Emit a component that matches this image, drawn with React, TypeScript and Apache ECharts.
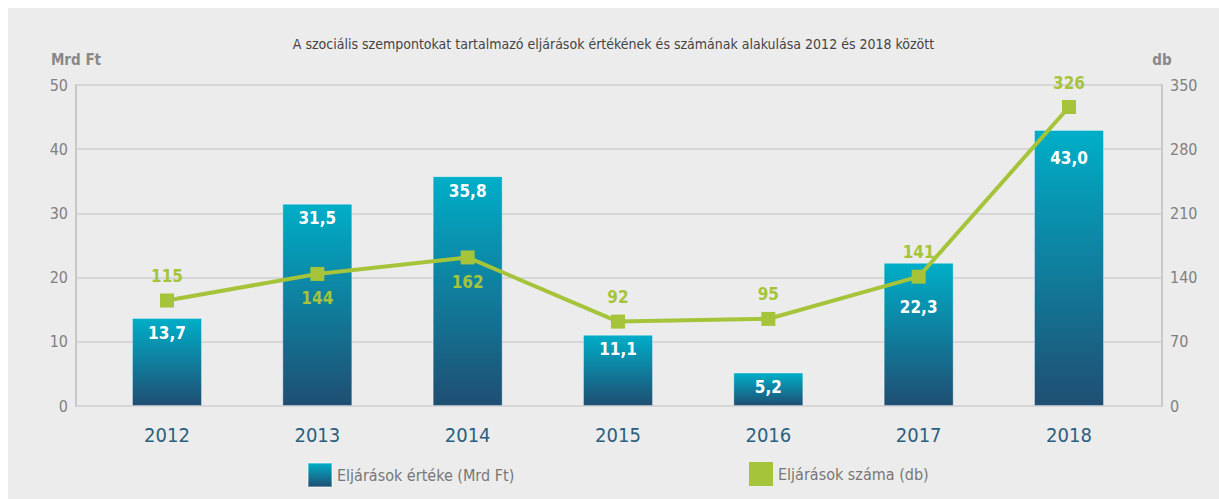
import React, { useEffect, useRef } from "react";
import * as echarts from "echarts";

const titleText =
  "A szociális szempontokat tartalmazó eljárások értékének és számának alakulása 2012 és 2018 között";
const years = ["2012", "2013", "2014", "2015", "2016", "2017", "2018"];
const valueMrdFt = [13.7, 31.5, 35.8, 11.1, 5.2, 22.3, 43.0];
const countDb = [115, 144, 162, 92, 95, 141, 326];
const countLabelBelow = [false, true, true, false, false, false, false];
const barLabelExtraDrop = [0, 0, 0, 0, 0, 30, 14];
const leftTicks = { min: 0, max: 50, interval: 10 };
const rightTicks = { min: 0, max: 350, interval: 70 };
const barName = "Eljárások értéke (Mrd Ft)";
const lineName = "Eljárások száma (db)";

const FONT = "'Liberation Sans Narrow', 'DejaVu Sans Condensed', 'Open Sans', sans-serif";

export default function App() {
  const ref = useRef<HTMLDivElement>(null);
  useEffect(() => {
    if (!ref.current) return;
    const chart = echarts.init(ref.current, undefined, { renderer: "svg" });
    const barGrad = new echarts.graphic.LinearGradient(0, 0, 0, 1, [
      { offset: 0, color: "#00aec8" },
      { offset: 1, color: "#1f4e72" },
    ]);
    const fmt = (v: number) => v.toFixed(1).replace(".", ",");
    chart.setOption({
      animation: false,
      backgroundColor: "#ececec",
      textStyle: { fontFamily: FONT },
      title: {
        text: titleText,
        left: "center",
        top: 24,
        textStyle: { fontFamily: FONT, fontSize: 14, fontWeight: "normal", color: "#444" },
      },
      legend: [
        {
          data: [{ name: barName, icon: "rect" }],
          left: 299,
          top: 454,
          padding: 0,
          itemWidth: 24,
          itemHeight: 24,
          itemGap: 6,
          textStyle: { fontFamily: FONT, fontSize: 16, color: "#777" },
        },
        {
          data: [{ name: lineName, icon: "rect", itemStyle: { color: "#a5c43a" } }],
          left: 741,
          top: 454,
          padding: 0,
          itemWidth: 24,
          itemHeight: 24,
          textStyle: { fontFamily: FONT, fontSize: 16, color: "#777" },
        },
      ],
      grid: { left: 68, right: 57, top: 77, bottom: 93 },
      xAxis: {
        type: "value",
        min: 2011.3947,
        max: 2018.6186,
        axisLine: { show: false },
        axisTick: { show: false },
        splitLine: { show: false },
        axisLabel: {
          customValues: years.map(Number),
          formatter: (v: number) => String(Math.round(v)),
          fontFamily: FONT,
          fontSize: 20,
          color: "#2a5f80",
          margin: 19,
        },
      },
      yAxis: [
        {
          type: "value",
          ...leftTicks,
          name: "Mrd Ft",
          nameGap: 18,
          nameTextStyle: { fontFamily: FONT, fontSize: 15, fontWeight: "bold", color: "#888" },
          axisLine: { show: true, lineStyle: { color: "#c8c8c8", width: 2 } },
          axisTick: { show: false },
          axisLabel: { fontFamily: FONT, fontSize: 16, color: "#808080", margin: 8 },
          splitLine: { lineStyle: { color: "#d6d6d6", width: 2 } },
        },
        {
          type: "value",
          ...rightTicks,
          name: "db",
          nameGap: 18,
          nameTextStyle: { fontFamily: FONT, fontSize: 15, fontWeight: "bold", color: "#888" },
          axisLine: { show: true, lineStyle: { color: "#c8c8c8", width: 2 } },
          axisTick: { show: false },
          axisLabel: { fontFamily: FONT, fontSize: 16, color: "#808080", margin: 8 },
          splitLine: { show: false },
        },
      ],
      series: [
        {
          name: barName,
          type: "bar",
          yAxisIndex: 0,
          barWidth: 70,
          itemStyle: { color: barGrad, borderColor: "rgba(255,255,255,0.35)", borderWidth: 1 },
          data: years.map((y, i) => ({
            value: [Number(y), valueMrdFt[i]],
            label: {
              show: true,
              position: "insideTop",
              distance: 6 + barLabelExtraDrop[i],
              color: "#fff",
              fontFamily: FONT,
              fontSize: 17,
              fontWeight: "bold",
              formatter: fmt(valueMrdFt[i]),
            },
          })),
        },
        {
          name: lineName,
          type: "line",
          yAxisIndex: 1,
          symbol: "rect",
          symbolSize: 14,
          lineStyle: { color: "#a5c43a", width: 4 },
          itemStyle: { color: "#a5c43a" },
          data: years.map((y, i) => ({
            value: [Number(y), countDb[i]],
            label: {
              show: true,
              position: countLabelBelow[i] ? "bottom" : "top",
              distance: 9,
              color: "#a5c43a",
              fontFamily: FONT,
              fontSize: 17,
              fontWeight: "bold",
              formatter: String(countDb[i]),
            },
          })),
        },
      ],
    });
    return () => chart.dispose();
  }, []);
  return (
    <div
      ref={ref}
      style={{ position: "fixed", left: 8, top: 8, width: 1211, height: 491 }}
    />
  );
}
